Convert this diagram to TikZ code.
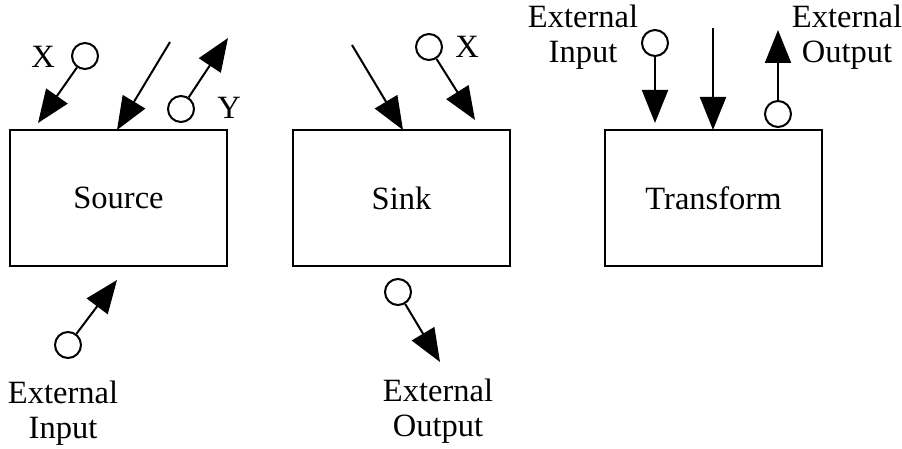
\documentclass[tikz,border=0pt]{standalone}
\usepackage{fontspec}
\setmainfont{Liberation Serif}
\usetikzlibrary{arrows.meta}

\begin{document}
\begin{tikzpicture}[
  x=1pt,
  y=-1pt,
  >=Latex,
  box/.style={draw, line width=1.8pt, minimum width=217pt, minimum height=136pt,
    inner sep=0pt, outer sep=0pt},
  port/.style={circle, draw, line width=2pt, minimum size=26pt, inner sep=0pt},
  flow/.style={line width=2pt, -{Triangle[length=33pt,width=26pt]}},
  every node/.style={font=\fontsize{32.5}{35}\selectfont}
]
\useasboundingbox (0,0) rectangle (902,449);

% The three kinds of process.
\node[box] (source)    at (118.5,198) {Source};
\node[box] (sink)      at (401.5,198) {Sink};
\node[box] (transform) at (713.5,198) {Transform};

% Ends of the arrows.
\coordinate (srcXtip)  at (38,123);
\coordinate (srcIn)    at (170,42);
\coordinate (srcInTip) at (117,130);
\coordinate (srcYtip)  at (228,38);
\coordinate (srcExTip) at (117,280);
\coordinate (snkIn)    at (352,45);
\coordinate (snkInTip) at (403,130);
\coordinate (snkXtip)  at (475,120);
\coordinate (snkExTip) at (440,362);
\coordinate (trfInTip) at (655,123);
\coordinate (trfIn)    at (713,28);
\coordinate (trfInEnd) at (713,130);
\coordinate (trfOutTip) at (778,30);

% Source: flows in and out.
\node[port] (srcX)  at (85,56) {};
\node[port] (srcY)  at (181,109) {};
\node[port] (srcEx) at (68,345) {};
\node (srcXlab) at (43,57) {X};
\node (srcYlab) at (229,108) {Y};
\draw[flow] (srcX) -- (srcXtip);
\draw[flow] (srcIn) -- (srcInTip);
\draw[flow] (srcY) -- (srcYtip);
\draw[flow] (srcEx) -- (srcExTip);
\node[align=center] (srcExLab) at (63,413) {External\\Input};

% Sink.
\node[port] (snkX)  at (429,47) {};
\node[port] (snkEx) at (398,292) {};
\node (snkXlab) at (467,47) {X};
\draw[flow] (snkIn) -- (snkInTip);
\draw[flow] (snkX) -- (snkXtip);
\draw[flow] (snkEx) -- (snkExTip);
\node[align=center] (snkExLab) at (438,411) {External\\Output};

% Transform.
\node[port] (trfEx)  at (655,43) {};
\node[port] (trfOut) at (778,114) {};
\draw[flow] (trfEx) -- (trfInTip);
\draw[flow] (trfIn) -- (trfInEnd);
\draw[flow] (trfOut) -- (trfOutTip);
\node[align=center] (trfExLab)  at (583,37) {External\\Input};
\node[align=center] (trfOutLab) at (847,37) {External\\Output};
\end{tikzpicture}
\end{document}
